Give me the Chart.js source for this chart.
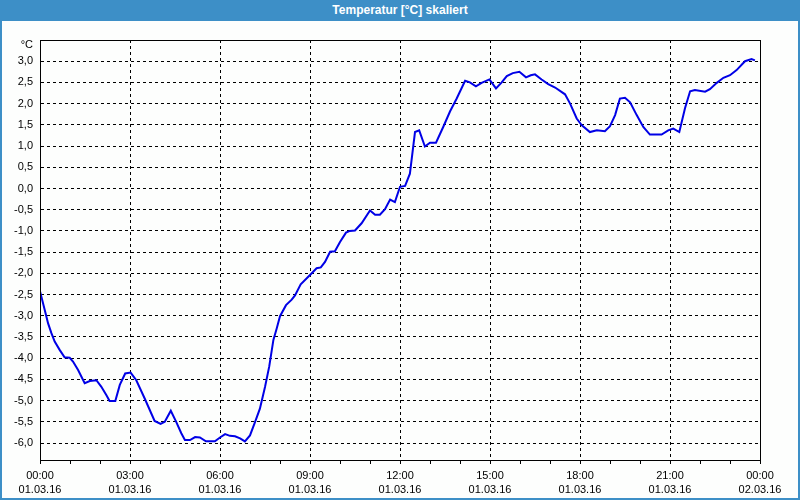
<!DOCTYPE html>
<html>
<head>
<meta charset="utf-8">
<script src="https://cdn.jsdelivr.net/npm/chart.js@4.4.0/dist/chart.umd.min.js"></script>
<style>
  html,body{margin:0;padding:0;background:#fdfefd;}
  #wrap{position:relative;width:800px;height:500px;overflow:hidden;}
  #c{position:absolute;left:0;top:0;}
  #title{position:absolute;left:0;top:0;width:800px;height:21px;background:#3d8fc7;color:#fff;
    font:bold 12px "Liberation Sans",Arial,sans-serif;text-align:center;line-height:21px;}
  #frame{position:absolute;left:0;top:0;width:800px;height:500px;box-sizing:border-box;border:2px solid #3d8fc7;pointer-events:none;}
  #unit{position:absolute;right:767px;top:38px;font:11px "Liberation Sans",Arial,sans-serif;color:#000;}
</style>
</head>
<body>
<div id="wrap">
  <canvas id="c" width="800" height="500"></canvas>
  <div id="title">Temperatur [°C] skaliert</div>
  <div id="unit">°C</div>
  <div id="frame"></div>
</div>
<script>
// time in hours since 01.03.16 00:00
const hours = [0.00,0.16,0.27,0.38,0.49,0.66,0.82,0.99,1.10,1.27,1.49,1.66,1.88,2.04,2.21,2.32,2.51,2.66,2.84,3.02,
  3.21,3.49,3.82,4.02,4.16,4.36,4.54,4.71,4.83,5.00,5.17,5.33,5.53,5.83,6.00,6.17,6.33,6.50,6.67,6.83,
  7.00,7.17,7.33,7.50,7.64,7.78,7.89,8.00,8.20,8.39,8.50,8.69,9.00,9.22,9.36,9.50,9.67,9.83,10.00,10.20,
  10.33,10.50,10.72,11.00,11.17,11.33,11.50,11.67,11.83,12.00,12.17,12.33,12.50,12.64,12.83,13.00,13.20,13.44,13.67,13.89,
  14.17,14.33,14.53,14.72,14.98,15.20,15.39,15.56,15.76,15.98,16.20,16.36,16.50,16.72,16.94,17.17,17.50,17.67,17.89,18.06,
  18.33,18.56,18.83,19.00,19.17,19.33,19.50,19.67,19.89,20.11,20.33,20.72,20.94,21.11,21.31,21.50,21.67,21.83,22.17,22.33,
  22.56,22.78,23.00,23.22,23.50,23.72,23.83];
const temps = [-2.42,-2.87,-3.18,-3.41,-3.61,-3.81,-3.98,-3.99,-4.08,-4.28,-4.59,-4.54,-4.52,-4.67,-4.87,-5.01,-5.01,-4.63,-4.36,-4.34,
  -4.52,-4.95,-5.48,-5.55,-5.50,-5.24,-5.50,-5.77,-5.93,-5.93,-5.86,-5.87,-5.96,-5.96,-5.87,-5.79,-5.83,-5.84,-5.89,-5.96,
  -5.82,-5.50,-5.19,-4.68,-4.20,-3.57,-3.30,-3.01,-2.75,-2.62,-2.52,-2.26,-2.04,-1.88,-1.86,-1.73,-1.49,-1.48,-1.26,-1.04,
  -1.00,-0.99,-0.82,-0.52,-0.62,-0.62,-0.49,-0.26,-0.32,0.04,0.06,0.35,1.33,1.37,0.99,1.08,1.08,1.45,1.82,2.12,
  2.54,2.50,2.41,2.49,2.57,2.36,2.50,2.65,2.72,2.75,2.62,2.67,2.69,2.57,2.46,2.38,2.22,2.00,1.65,1.49,
  1.33,1.37,1.35,1.47,1.73,2.12,2.14,2.03,1.73,1.45,1.27,1.27,1.37,1.41,1.33,1.89,2.29,2.32,2.28,2.34,
  2.49,2.61,2.67,2.79,3.00,3.05,3.02];
const yTicks = [-6,-5.5,-5,-4.5,-4,-3.5,-3,-2.5,-2,-1.5,-1,-0.5,0,0.5,1,1.5,2,2.5,3];
const xTicks = [0,1,2,3,4,5,6,7,8,9,10,11,12,13,14,15,16,17,18,19,20,21,22,23,24];
const xLabels = {0:['00:00','01.03.16'],3:['03:00','01.03.16'],6:['06:00','01.03.16'],9:['09:00','01.03.16'],
  12:['12:00','01.03.16'],15:['15:00','01.03.16'],18:['18:00','01.03.16'],21:['21:00','01.03.16'],24:['00:00','02.03.16']};
const yMin = -6.4, yMax = 3.5, xMin = 0, xMax = 24;

const frame = {
  id:'frame',
  afterDraw(chart){
    const a = chart.chartArea, ctx = chart.ctx;
    ctx.save();
    ctx.strokeStyle = '#000'; ctx.lineWidth = 1; ctx.setLineDash([]);
    ctx.strokeRect(Math.round(a.left)+0.5, Math.round(a.top)+0.5, Math.round(a.right-a.left), Math.round(a.bottom-a.top));
    ctx.restore();
  }
};

const font = {family:'"Liberation Sans", Arial, sans-serif', size:11, lineHeight:1.27};

new Chart(document.getElementById('c'), {
  type:'line',
  data:{datasets:[{
    data: hours.map((h,i)=>({x:h,y:temps[i]})),
    borderColor:'#0000e6', borderWidth:2, pointRadius:0, tension:0, fill:false
  }]},
  options:{
    responsive:false, animation:false,
    layout:{padding:{left:0,top:40,right:40,bottom:0}},
    plugins:{legend:{display:false},tooltip:{enabled:false}},
    scales:{
      x:{
        type:'linear', min:xMin, max:xMax,
        afterBuildTicks(s){ s.ticks = xTicks.map(v=>({value:v})); },
        afterFit(s){ s.height = 40; },
        ticks:{autoSkip:false,maxRotation:0,color:'#000',font,padding:5,
          callback:(v)=> xLabels[v] || ''},
        grid:{color:(c)=> (c.tick && c.tick.value%3===0 && c.tick.value>0 && c.tick.value<24) ? '#000' : 'rgba(0,0,0,0)',
          tickColor:'#000', tickLength:4, lineWidth:1},
        border:{display:true,color:'#000',dash:[3,3]}
      },
      y:{
        min:yMin, max:yMax,
        afterBuildTicks(s){ s.ticks = yTicks.map(v=>({value:v})); },
        afterFit(s){ s.width = 40; },
        ticks:{color:'#000',font,padding:7,callback:(v)=> v.toFixed(1).replace('.',',')},
        grid:{color:'#000',drawTicks:false,lineWidth:1},
        border:{display:true,color:'#000',dash:[3,3]}
      }
    }
  },
  plugins:[frame]
});
</script>
</body>
</html>
